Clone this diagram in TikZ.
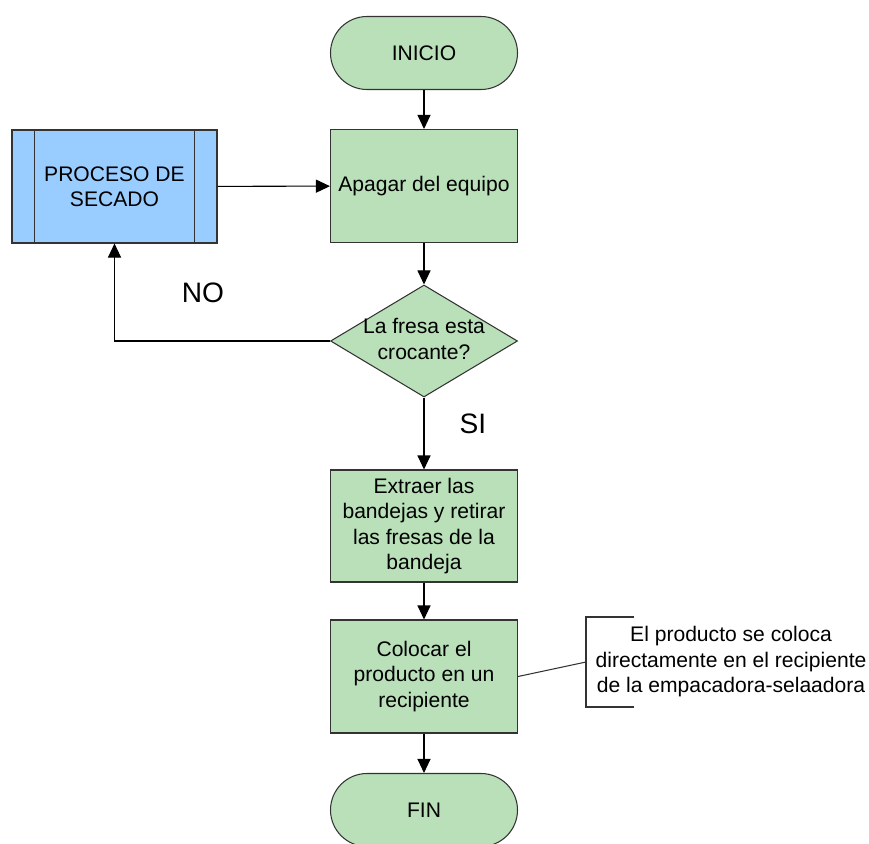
\documentclass[tikz,border=0pt]{standalone}
\usepackage{fontspec}
\setmainfont{Liberation Sans}
\usetikzlibrary{shapes.geometric,arrows.meta}
\definecolor{verde}{RGB}{185,224,185}
\definecolor{azul}{RGB}{153,204,255}
\begin{document}
\begin{tikzpicture}[
    every node/.style={font=\fontsize{12}{14.5}\selectfont, align=center},
    caja/.style={draw=black!80, fill=verde, line width=0.6pt, minimum width=3.74cm, minimum height=2.26cm},
    terminal/.style={draw=black!80, fill=verde, line width=0.6pt, rounded corners=0.73cm, minimum width=3.74cm, minimum height=1.46cm},
    decision/.style={draw=black!80, fill=verde, line width=0.6pt, diamond, inner sep=0pt, minimum width=3.74cm, minimum height=2.24cm},
    flecha/.style={line width=0.6pt, -{Triangle[length=0.28cm,width=0.26cm]}},
    grande/.style={font=\fontsize{16}{18}\selectfont}
  ]

    \useasboundingbox (0,0) rectangle (17.38,-16.86);

    \node[terminal] (inicio) at (8.48,-1.06) {INICIO};
    \node[caja] (apagar) at (8.48,-3.72) {Apagar del equipo};
    \node[caja, fill=azul, minimum width=4.1cm] (secado) at (2.29,-3.73) {PROCESO DE\\SECADO};
    \foreach \s/\d in {west/0.46, east/-0.46}
    \draw[black!80, line width=0.6pt] ([xshift=\d cm]secado.north \s) -- ([xshift=\d cm]secado.south \s);
    \node[decision] (fresa) at (8.48,-6.82) {};
    \node (fresatxt) at (8.48,-6.78) {La fresa esta\\crocante?};
    \node[caja, minimum height=2.24cm] (extraer) at (8.48,-10.52) {Extraer las\\bandejas y retirar\\las fresas de la\\bandeja};
    \node[caja] (colocar) at (8.48,-13.53) {Colocar el\\producto en un\\recipiente};
    \node[terminal] (fin) at (8.48,-16.2) {FIN};

    \node[grande] (no) at (4.06,-5.86) {NO};
    \node[grande] (si) at (9.46,-8.48) {SI};

    \draw[flecha] (inicio) -- (apagar);
    \draw[flecha] (secado) -- (apagar);
    \draw[flecha] (apagar) -- (fresa);
    \draw[flecha] (fresa.west) -| (secado.south);
    \draw[flecha] (fresa) -- (extraer);
    \draw[flecha] (extraer) -- (colocar);
    \draw[flecha] (colocar) -- (fin);

    % nota
    \coordinate (corchete) at (11.72,-13.24);
    \draw[black!80, line width=0.6pt] (12.68,-12.34) -- (11.72,-12.34) -- (11.72,-14.14) -- (12.68,-14.14);
    \node (nota) at (14.62,-13.24) {El producto se coloca\\directamente en el recipiente\\de la empacadora-selaadora};
    \draw[black!80, line width=0.6pt] (colocar.east) -- (corchete);
  \end{tikzpicture}
\end{document}
